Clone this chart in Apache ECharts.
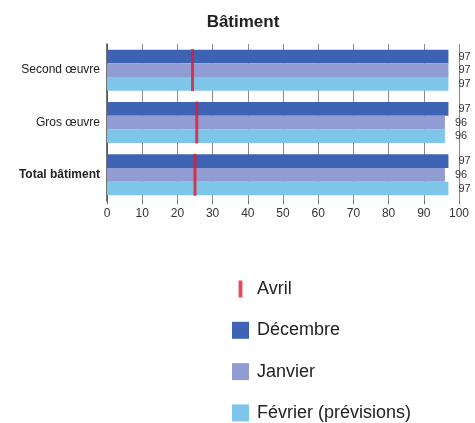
<!DOCTYPE html>
<html>
<head>
<meta charset="utf-8">
<script src="https://cdn.jsdelivr.net/npm/echarts@6/dist/echarts.min.js"></script>
<style>
  html, body { margin: 0; padding: 0; background: #fff; }
  #chart { width: 475px; height: 423px; }
</style>
</head>
<body>
<div id="chart"></div>
<script>
// Categories, top to bottom
const categories = ['Second œuvre', 'Gros œuvre', 'Total bâtiment'];

// Survey results per month (%)
const decembre = [97, 97, 97];
const janvier = [97, 96, 96];
const fevrier = [97, 96, 97];
// April reference marker
const avril = [24.3, 25.5, 25];

const xTicks = [0, 10, 20, 30, 40, 50, 60, 70, 80, 90, 100];

const FONT = '"Liberation Sans", Arial, sans-serif';
const colors = { dec: '#3E63B5', jan: '#919CD2', feb: '#7DC6EA', avr: '#E8162A' };

const chart = echarts.init(document.getElementById('chart'), null, { renderer: 'canvas' });

const barLabel = {
  show: true,
  position: 'right',
  distance: 10,
  color: '#333',
  fontFamily: FONT,
  fontSize: 11,
  formatter: p => p.value
};

chart.setOption({
  animation: false,
  title: {
    text: 'Bâtiment',
    left: 238,
    textAlign: 'center',
    top: 9,
    textStyle: { fontFamily: FONT, fontSize: 17, fontWeight: 'bold', color: '#222' }
  },
  grid: { left: 107, right: 16, top: 44, height: 157, outerBoundsMode: 'none', containLabel: false },
  xAxis: {
    type: 'value',
    min: xTicks[0],
    max: xTicks[xTicks.length - 1],
    interval: 10,
    axisLine: { show: false },
    axisTick: { show: true, length: 3, lineStyle: { color: '#666' } },
    splitLine: { show: true, lineStyle: { color: '#8a8a8a', width: 1 } },
    axisLabel: { fontFamily: FONT, fontSize: 12, color: '#333', margin: 7 }
  },
  yAxis: {
    type: 'category',
    data: categories,
    inverse: true,
    axisLine: { show: true, lineStyle: { color: '#444', width: 1.5 } },
    axisTick: { show: false },
    axisLabel: {
      fontFamily: FONT, fontSize: 12, color: '#222', margin: 7,
      formatter: v => v === 'Total bâtiment' ? '{b|' + v + '}' : v,
      rich: { b: { fontFamily: FONT, fontSize: 12, fontWeight: 'bold', color: '#222' } }
    }
  },
  legend: {
    orient: 'vertical',
    left: 232,
    top: 280,
    padding: 0,
    itemWidth: 17,
    itemHeight: 17,
    itemGap: 23.3,
    textStyle: { fontFamily: FONT, fontSize: 18, color: '#222', padding: [0, 0, 0, 3] },
    data: [
      { name: 'Avril', icon: 'path://M0,0h4v18h-4z' },
      { name: 'Décembre', icon: 'rect' },
      { name: 'Janvier', icon: 'rect' },
      { name: 'Février (prévisions)', icon: 'rect' }
    ]
  },
  series: [
    {
      name: 'Décembre', type: 'bar', data: decembre,
      barGap: '0%', barCategoryGap: '21.6%',
      itemStyle: { color: colors.dec }, label: barLabel
    },
    {
      name: 'Janvier', type: 'bar', data: janvier,
      itemStyle: { color: colors.jan }, label: barLabel
    },
    {
      name: 'Février (prévisions)', type: 'bar', data: fevrier,
      itemStyle: { color: colors.feb }, label: barLabel
    },
    {
      name: 'Avril', type: 'scatter', data: avril,
      symbol: 'rect', symbolSize: [3, 42], symbolKeepAspect: true,
      itemStyle: { color: colors.avr }, z: 5
    }
  ]
});
</script>
</body>
</html>
